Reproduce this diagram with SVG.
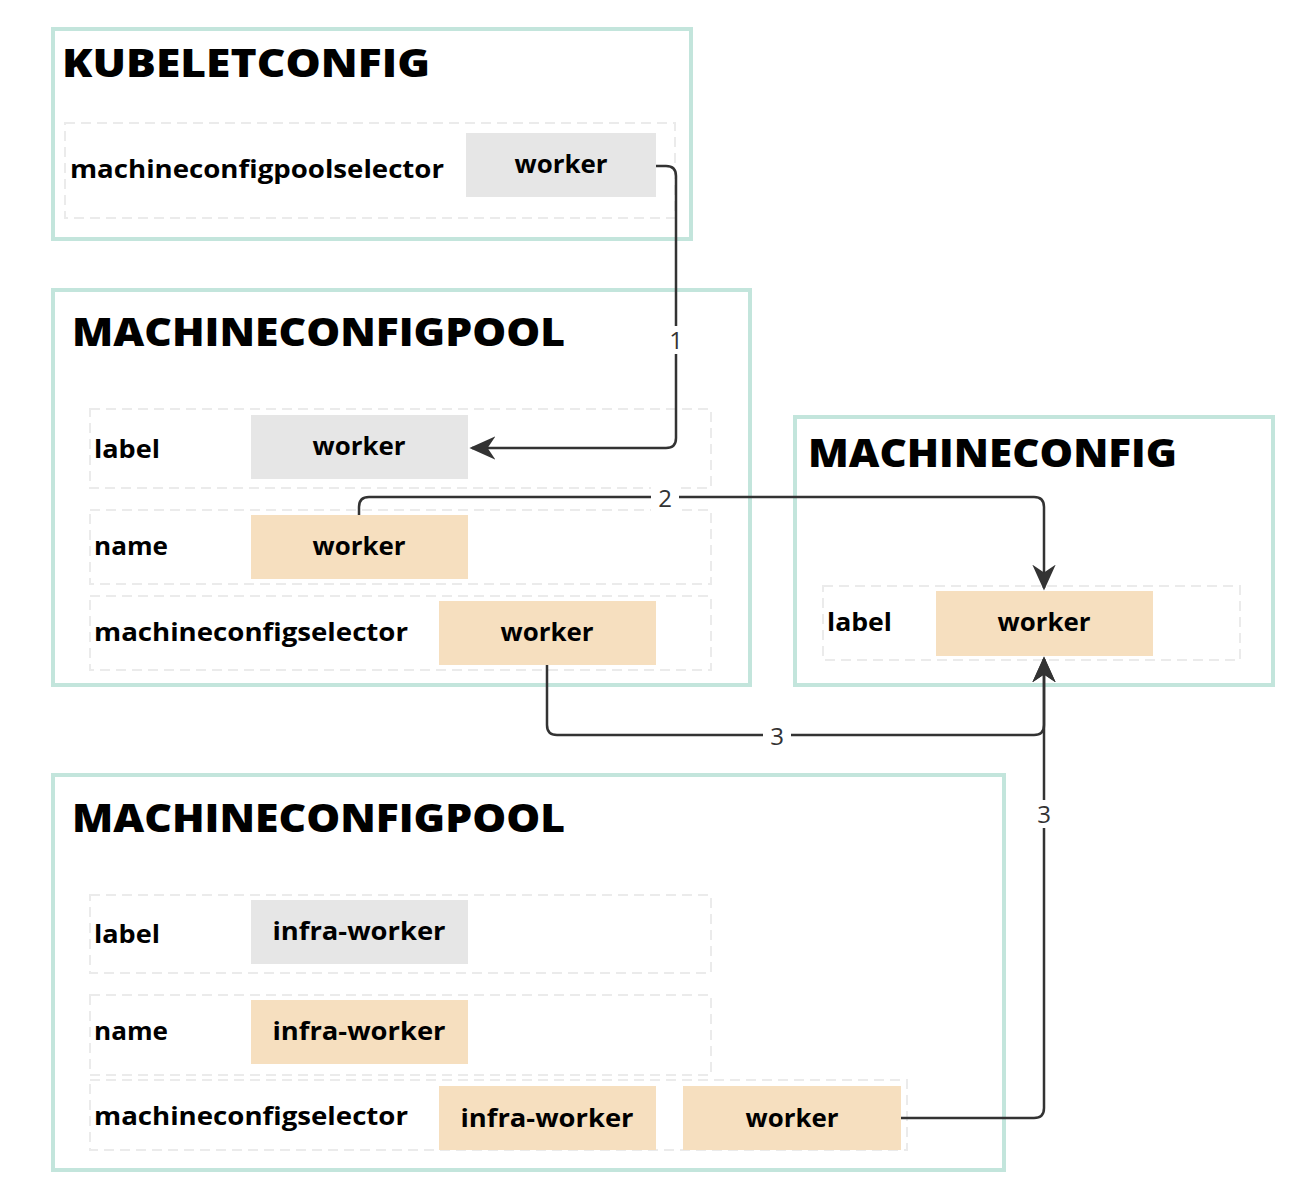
<svg xmlns="http://www.w3.org/2000/svg" width="1306" height="1190" viewBox="0 0 1306 1190">
<style>
.frame{fill:#fff;stroke:#c3e5dc;stroke-width:4}
.row{fill:none;stroke:#ebebeb;stroke-width:2;stroke-dasharray:10 6}
.gray{fill:#e6e6e6}
.peach{fill:#f6dfbf}
.title{font-family:"Open Sans","Liberation Sans",sans-serif;font-weight:800;font-size:38px;fill:#000}
.lbl{font-family:"Open Sans","Liberation Sans",sans-serif;font-weight:700;font-size:25px;fill:#000}
.val{font-family:"Open Sans","Liberation Sans",sans-serif;font-weight:700;font-size:25px;fill:#000;text-anchor:middle}
.edge{fill:none;stroke:#333;stroke-width:2.5}
.elbl{font-family:"Open Sans","Liberation Sans",sans-serif;font-size:24px;fill:#333;text-anchor:middle}
.lblbg{fill:#fff}
</style>
<defs>
<marker id="arr" viewBox="0 0 20 20" refX="18" refY="10" markerWidth="26" markerHeight="26" markerUnits="userSpaceOnUse" orient="auto">
<path d="M0,1 L20,10 L0,19 L6,10 Z" fill="#333"/>
</marker>
</defs>

<g id="kubeletconfig">
<rect class="frame" x="53" y="29" width="638" height="210"/>
<text class="title" x="62" y="77" textLength="368" lengthAdjust="spacingAndGlyphs">KUBELETCONFIG</text>
<rect class="row" x="65" y="123" width="610" height="95"/>
<text class="lbl" x="70" y="178" textLength="374" lengthAdjust="spacingAndGlyphs">machineconfigpoolselector</text>
<rect class="gray" x="466" y="133" width="190" height="64"/>
<text class="val" x="561" y="173" textLength="93" lengthAdjust="spacingAndGlyphs">worker</text>
</g>

<g id="mcp-worker">
<rect class="frame" x="53" y="290" width="697" height="395"/>
<text class="title" x="72" y="346" textLength="493" lengthAdjust="spacingAndGlyphs">MACHINECONFIGPOOL</text>
<rect class="row" x="90" y="409" width="621" height="79"/>
<text class="lbl" x="94" y="458" textLength="66" lengthAdjust="spacingAndGlyphs">label</text>
<rect class="gray" x="251" y="415" width="217" height="64"/>
<text class="val" x="359" y="455" textLength="93" lengthAdjust="spacingAndGlyphs">worker</text>
<rect class="row" x="90" y="510" width="621" height="74"/>
<text class="lbl" x="94" y="555" textLength="74" lengthAdjust="spacingAndGlyphs">name</text>
<rect class="peach" x="251" y="515" width="217" height="64"/>
<text class="val" x="359" y="555" textLength="93" lengthAdjust="spacingAndGlyphs">worker</text>
<rect class="row" x="90" y="596" width="621" height="74"/>
<text class="lbl" x="94" y="641" textLength="314" lengthAdjust="spacingAndGlyphs">machineconfigselector</text>
<rect class="peach" x="439" y="601" width="217" height="64"/>
<text class="val" x="547" y="641" textLength="93" lengthAdjust="spacingAndGlyphs">worker</text>
</g>

<g id="machineconfig">
<rect class="frame" x="795" y="417" width="478" height="268"/>
<text class="title" x="808" y="467" textLength="369" lengthAdjust="spacingAndGlyphs">MACHINECONFIG</text>
<rect class="row" x="823" y="586" width="417" height="74"/>
<text class="lbl" x="827" y="631" textLength="65" lengthAdjust="spacingAndGlyphs">label</text>
<rect class="peach" x="936" y="591" width="217" height="65"/>
<text class="val" x="1044" y="631" textLength="93" lengthAdjust="spacingAndGlyphs">worker</text>
</g>

<g id="mcp-infra">
<rect class="frame" x="53" y="775" width="951" height="395"/>
<text class="title" x="72" y="832" textLength="493" lengthAdjust="spacingAndGlyphs">MACHINECONFIGPOOL</text>
<rect class="row" x="90" y="895" width="621" height="78"/>
<text class="lbl" x="94" y="943" textLength="66" lengthAdjust="spacingAndGlyphs">label</text>
<rect class="gray" x="251" y="900" width="217" height="64"/>
<text class="val" x="359" y="940" textLength="173" lengthAdjust="spacingAndGlyphs">infra-worker</text>
<rect class="row" x="90" y="995" width="621" height="80"/>
<text class="lbl" x="94" y="1040" textLength="74" lengthAdjust="spacingAndGlyphs">name</text>
<rect class="peach" x="251" y="1000" width="217" height="64"/>
<text class="val" x="359" y="1040" textLength="173" lengthAdjust="spacingAndGlyphs">infra-worker</text>
<rect class="row" x="90" y="1080" width="817" height="70"/>
<text class="lbl" x="94" y="1125" textLength="314" lengthAdjust="spacingAndGlyphs">machineconfigselector</text>
<rect class="peach" x="439" y="1086" width="217" height="64"/>
<text class="val" x="547" y="1127" textLength="173" lengthAdjust="spacingAndGlyphs">infra-worker</text>
<rect class="peach" x="683" y="1086" width="218" height="64"/>
<text class="val" x="792" y="1127" textLength="93" lengthAdjust="spacingAndGlyphs">worker</text>
</g>

<g id="connectors">
<path class="edge" d="M656,166 L666,166 Q676,166 676,176 L676,438 Q676,448 666,448 L472,448" marker-end="url(#arr)"/>
<rect class="lblbg" x="666" y="326" width="20" height="28"/>
<text class="elbl" x="676" y="349">1</text>
<path class="edge" d="M359,515 L359,507 Q359,497 369,497 L1034,497 Q1044,497 1044,507 L1044,588" marker-end="url(#arr)"/>
<rect class="lblbg" x="651" y="484" width="28" height="28"/>
<text class="elbl" x="665" y="507">2</text>
<path class="edge" d="M547,665 L547,725 Q547,735 557,735 L1034,735 Q1044,735 1044,725 L1044,659" marker-end="url(#arr)"/>
<rect class="lblbg" x="763" y="722" width="28" height="28"/>
<text class="elbl" x="777" y="745">3</text>
<path class="edge" d="M901,1118 L1034,1118 Q1044,1118 1044,1108 L1044,659" marker-end="url(#arr)"/>
<rect class="lblbg" x="1032" y="800" width="24" height="28"/>
<text class="elbl" x="1044" y="823">3</text>
</g>
</svg>
